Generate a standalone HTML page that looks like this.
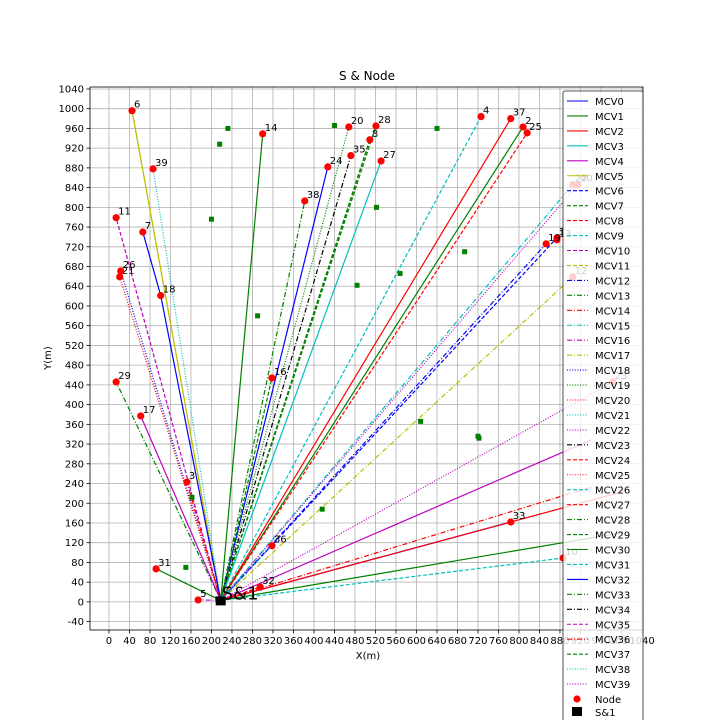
<!DOCTYPE html>
<html><head><meta charset="utf-8">
<style>
html,body{margin:0;padding:0;background:#fff;}
svg{display:block;font-family:"DejaVu Sans","Liberation Sans",sans-serif;}
</style></head>
<body>
<svg id="chart" width="720" height="720" viewBox="0 0 720 720" xmlns="http://www.w3.org/2000/svg">
<rect x="0" y="0" width="720" height="720" fill="#fff"/>
<text x="367" y="80" text-anchor="middle" font-size="12">S &amp; Node</text>
<text x="368" y="659" text-anchor="middle" font-size="10">X(m)</text>
<text x="51" y="358" text-anchor="middle" font-size="10" transform="rotate(-90 51 358)">Y(m)</text>
<g id="grid"></g>
<g id="routes"></g>
<g id="waypoints"></g>
<g id="nodes"></g>
<g id="axes"></g>
<g id="legend"></g>
</svg>
<script>
// ---- data ----
const xTicks = [0,40,80,120,160,200,240,280,320,360,400,440,480,520,560,600,640,680,720,760,800,840,880,920,960,1000,1040];
const yTicks = [-40,0,40,80,120,160,200,240,280,320,360,400,440,480,520,560,600,640,680,720,760,800,840,880,920,960,1000,1040];
const depot = [218, 3];
const nodeIds = [1,2,3,4,5,6,7,8,10,11,12,13,14,16,17,18,19,20,21,22,23,24,25,26,27,28,29,31,32,33,35,36,37,38,39,40];
const nodeX =   [874,808,152,726,174,45,66,509,886,14,905,874,300,318,62,101,853,468,21,905,983,427,816,23,531,521,14,92,295,784,472,318,784,382,86,915];
const nodeY =   [738,963,243,984,4,996,750,937,89,779,659,734,949,454,377,621,726,963,659,846,446,882,951,671,894,965,446,67,30,162,905,114,980,813,878,846];
const wpX = [232,216,200,290,440,484,522,568,640,694,722,720,608,416,162,150,212];
const wpY = [960,928,776,580,966,642,800,666,960,710,332,336,366,188,212,70,6];
const extraX = [942,942,1001,1000,1000];
const extraY = [329,233,223,450,140];
// route target: index into node arrays; values >= node count index extra points
const routeTarget = [5,5,34,9,23,18,6,26,14,2,27,4,12,33,21,17,30,7,7,25,24,3,32,1,22,16,0,19,35,10,20,36,29,8,37,38,40,31,28,13];
const routeVia =    [-1,-1,-1,-1,-1,-1,15,-1,-1,-1,-1,-1,-1,-1,-1,-1,-1,-1,-1,-1,-1,-1,-1,-1,-1,-1,-1,-1,-1,-1,-1,-1,-1,-1,-1,-1,-1,-1,-1,-1];
const routeStyle =  [5,11,38,10,18,20,0,13,4,14,30,16,1,28,32,19,23,37,29,7,3,26,2,1,24,12,6,15,22,17,39,4,32,31,36,2,1,21,8,7];
const legendNames = ["MCV0","MCV1","MCV2","MCV3","MCV4","MCV5","MCV6","MCV7","MCV8","MCV9","MCV10","MCV11","MCV12","MCV13","MCV14","MCV15","MCV16","MCV17","MCV18","MCV19","MCV20","MCV21","MCV22","MCV23","MCV24","MCV25","MCV26","MCV27","MCV28","MCV29","MCV30","MCV31","MCV32","MCV33","MCV34","MCV35","MCV36","MCV37","MCV38","MCV39"];
const legendColors = ["b","g","r","c","m","y","b","g","r","c","m","y","b","g","r","c","m","y","b","g","r","c","m","k","r","r","c","r","g","g","g","c","b","g","k","m","r","g","c","m"];
const legendStyles = ["-","-","-","-","-","-","--","--","--","--","--","--","-.","-.","-.","-.","-.","-.",":",":",":",":",":","-.","--",":","--","--","-.","--","-","--","-","-.","-.","--","-.","--",":",":"];

// ---- scales ----
const X0=90, X1=643, Y0=87, Y1=630;
const xmin=-37, xmax=1042, ymin=-57, ymax=1044;
const sx = v => X0 + (v - xmin) / (xmax - xmin) * (X1 - X0);
const sy = v => Y1 - (v - ymin) / (ymax - ymin) * (Y1 - Y0);
const colorMap = {b:"#0000ff",g:"#008000",r:"#ff0000",c:"#00bfbf",m:"#bf00bf",y:"#bfbf00",k:"#000000"};
const dashMap = {"-":"","--":"4,2","-.":"5,2,1,2",":":"1,1.6"};
const NS="http://www.w3.org/2000/svg";
function mk(tag, attrs, parent){const e=document.createElementNS(NS,tag);for(const k in attrs)e.setAttribute(k,attrs[k]);parent.appendChild(e);return e;}

const grid=document.getElementById('grid'), axes=document.getElementById('axes');
xTicks.forEach((t)=>{
  const l=mk('line',{x1:sx(t),x2:sx(t),y1:Y0,y2:Y1,stroke:"#b0b0b0","stroke-width":0.8},grid);
  
  
  const tk=mk('line',{x1:sx(t),x2:sx(t),y1:Y1,y2:Y1+3.5,stroke:"#000","stroke-width":0.8},axes);
  
  
  const tx=mk('text',{x:sx(t),y:Y1+14,"text-anchor":"middle","font-size":10},axes);
  tx.textContent=t;
  
  
});
yTicks.forEach((t)=>{
  const l=mk('line',{x1:X0,x2:X1,y1:sy(t),y2:sy(t),stroke:"#b0b0b0","stroke-width":0.8},grid);
  
  
  const tk=mk('line',{x1:X0-3.5,x2:X0,y1:sy(t),y2:sy(t),stroke:"#000","stroke-width":0.8},axes);
  
  
  const tx=mk('text',{x:X0-6,y:sy(t)+3.5,"text-anchor":"end","font-size":10},axes);
  tx.textContent=t;
  
  
});
const frame=mk('rect',{x:X0,y:Y0,width:X1-X0,height:Y1-Y0,fill:"none",stroke:"#000","stroke-width":0.8},axes);



// routes
const routes=document.getElementById('routes');
routeTarget.forEach((ti,i)=>{
  let tx,ty;
  if(ti>=nodeX.length){const e=(ti-nodeX.length)%extraX.length;tx=extraX[e];ty=extraY[e];}
  else{tx=nodeX[ti];ty=nodeY[ti];}
  let pts=[[depot[0],depot[1]]];
  if(routeVia[i]>=0) pts.push([nodeX[routeVia[i]],nodeY[routeVia[i]]]);
  pts.push([tx,ty]);
  const s=routeStyle[i];
  const p=mk('polyline',{points:pts.map(q=>sx(q[0])+","+sy(q[1])).join(" "),fill:"none",stroke:colorMap[legendColors[s]],"stroke-width":1.2,"stroke-dasharray":dashMap[legendStyles[s]]},routes);
  
  
});

// waypoints
const wps=document.getElementById('waypoints');
wpX.forEach((x,i)=>{
  const r=mk('rect',{x:sx(x)-2.5,y:sy(wpY[i])-2.5,width:5,height:5,fill:"#008000"},wps);
  
  
});

// nodes
const nodes=document.getElementById('nodes');
nodeX.forEach((x,i)=>{
  const c=mk('circle',{cx:sx(x),cy:sy(nodeY[i]),r:3.6,fill:"#ff0000"},nodes);
  
  
  const t=mk('text',{x:sx(x)+2,y:sy(nodeY[i])-3,"font-size":10},nodes);
  t.textContent=nodeIds[i];
  
  
});
const dp=mk('rect',{x:sx(depot[0])-5,y:sy(depot[1])-4,width:10,height:9,fill:"#000"},nodes);


const dl=mk('text',{x:sx(depot[0])+1,y:sy(depot[1])-1,"font-size":18},nodes);
dl.textContent="S&1";



// legend
const lg=document.getElementById('legend');
const lbox=mk('rect',{x:563,y:91,width:80,height:640,rx:2,fill:"rgba(255,255,255,0.8)",stroke:"#222","stroke-width":0.8},lg);


legendNames.forEach((n,i)=>{
  const y=101+i*14.95;
  const l=mk('line',{x1:567,x2:588,y1:y,y2:y,stroke:colorMap[legendColors[i]],"stroke-width":1.1,"stroke-dasharray":dashMap[legendStyles[i]]},lg);
  
  
  const t=mk('text',{x:595,y:y+4,"font-size":10},lg);
  t.textContent=n;
  
  
});
const yN=101+40*14.95;
const nc=mk('circle',{cx:577,cy:yN,r:3.6,fill:"#ff0000"},lg);


const nt=mk('text',{x:595,y:yN+4,"font-size":10},lg);
nt.textContent="Node";


const yS=yN+13;
const sc=mk('rect',{x:572,y:yS-5,width:10,height:9,fill:"#000"},lg);


const st=mk('text',{x:595,y:yS+4,"font-size":10},lg);
st.textContent="S&1";


</script>
</body></html>
